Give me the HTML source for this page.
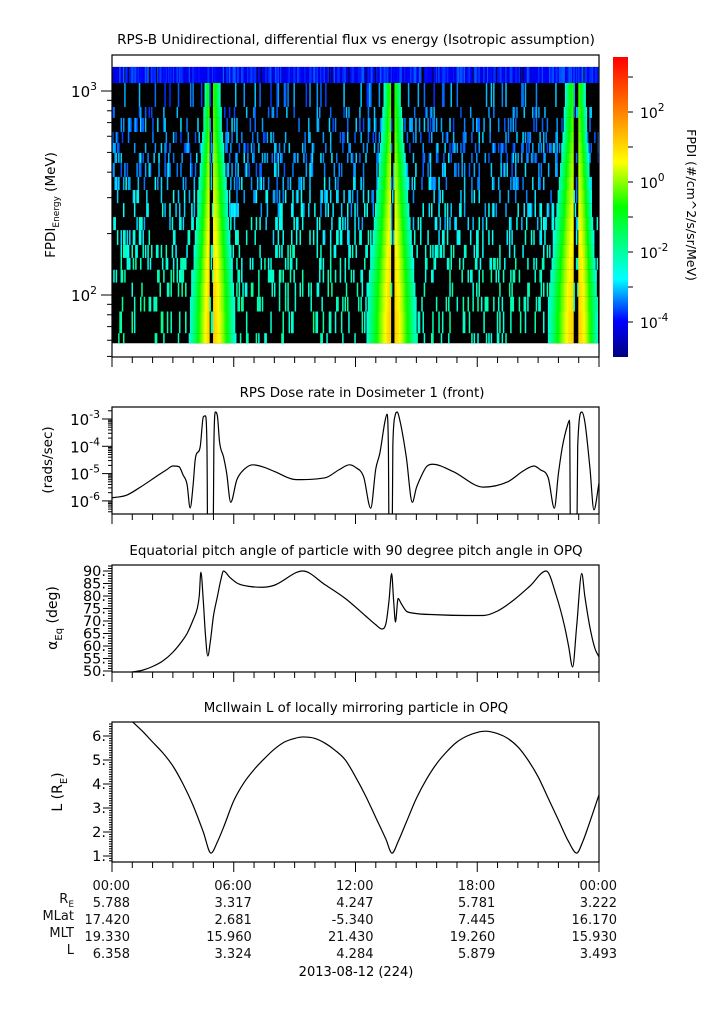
<!DOCTYPE html>
<html><head><meta charset="utf-8"><style>
html,body{margin:0;padding:0;background:#fff;}
svg{display:block;font-family:"DejaVu Sans","Liberation Sans",sans-serif;}
</style></head><body>
<svg id="fig" width="725" height="1019" viewBox="0 0 725 1019" xmlns="http://www.w3.org/2000/svg">
<defs>
<clipPath id="c1"><rect x="112" y="55" width="487" height="302"/></clipPath>
<clipPath id="c2"><rect x="112" y="407" width="487" height="107"/></clipPath>
<clipPath id="c3"><rect x="112" y="565" width="487" height="107"/></clipPath>
<clipPath id="c4"><rect x="112" y="722" width="487" height="140"/></clipPath>
<linearGradient id="jet" x1="0" y1="1" x2="0" y2="0">
<stop offset="0" stop-color="#000080"/><stop offset="0.12" stop-color="#0000ff"/>
<stop offset="0.26" stop-color="#00ffff"/><stop offset="0.5" stop-color="#00ff00"/>
<stop offset="0.65" stop-color="#ffff00"/><stop offset="0.82" stop-color="#ff8000"/><stop offset="1" stop-color="#ff0000"/>
</linearGradient>
</defs>
<g id="g-spec"></g>
<g id="g-lines"></g>
<g id="g-axes"></g>

<text x="356" y="44" font-size="13.6" text-anchor="middle">RPS-B  Unidirectional, differential flux vs energy (Isotropic assumption)</text>
<text transform="translate(55,205) rotate(-90)" font-size="13.5" text-anchor="middle">FPDI<tspan font-size="9" dy="4">Energy</tspan><tspan dy="-4"> (MeV)</tspan></text>
<text x="362" y="397" font-size="13.4" text-anchor="middle">RPS  Dose rate in Dosimeter 1 (front)</text>
<text transform="translate(52,460) rotate(-90)" font-size="13.5" text-anchor="middle">(rads/sec)</text>
<text x="356" y="555" font-size="13.4" text-anchor="middle">Equatorial pitch angle of particle with 90 degree pitch angle in OPQ</text>
<text transform="translate(57,618) rotate(-90)" font-size="14" text-anchor="middle">α<tspan font-size="10" dy="5">Eq</tspan><tspan dy="-5"> (deg)</tspan></text>
<text x="356" y="712" font-size="13.4" text-anchor="middle">McIlwain L of locally mirroring particle in OPQ</text>
<text transform="translate(62,792) rotate(-90)" font-size="14" text-anchor="middle">L (R<tspan font-size="10" dy="5">E</tspan><tspan dy="-5">)</tspan></text>

<rect x="613" y="57" width="15" height="300" fill="url(#jet)"/>
<text transform="translate(687,205) rotate(90)" font-size="12.5" text-anchor="middle">FPDI (#/cm^2/s/sr/MeV)</text>

<g font-size="13" fill="#111">
<text x="74" y="903" text-anchor="end">R<tspan font-size="9" dy="4">E</tspan></text>
<text x="74" y="920" text-anchor="end">MLat</text>
<text x="74" y="937" text-anchor="end">MLT</text>
<text x="74" y="954" text-anchor="end">L</text>
</g>
<text x="356" y="976" font-size="13" text-anchor="middle">2013-08-12 (224)</text>
</svg>
<script>
// ---------- data ----------
const energyBounds = [1312,1094,835,738,630,556,497,444,379,327,282,241,208,176,152,133,115,98,83,65,58];
const beltPeakLog = [-6,-0.4,-0.3,-0.2,-0.1,0.0,0.1,0.2,0.3,0.4,0.5,0.6,0.7,0.8,0.9,0.9,1.0,1.0,1.1,1.1];
const beltMaxL   = [1,1.9,2.0,2.05,2.1,2.2,2.3,2.4,2.5,2.6,2.7,2.8,2.9,3.0,3.1,3.2,3.3,3.35,3.4,3.45];
const bgLevelLog = [-3.9,-3.4,-3.4,-3.3,-3.3,-3.3,-3.2,-3.2,-3.1,-3.0,-2.9,-2.8,-2.6,-2.5,-2.4,-2.3,-2.3,-2.2,-2.2,-2.2];
const bgFraction = [0.95,0.15,0.18,0.22,0.22,0.25,0.25,0.25,0.28,0.25,0.25,0.25,0.22,0.22,0.22,0.22,0.2,0.2,0.17,0.15];

const lTimes = [1,1.5,2,2.5,3,3.5,4,4.5,4.88,5.2,5.5,6,6.5,7,7.5,8,8.5,9,9.4,10,10.5,11,11.5,12,12.5,13,13.5,13.8,14.1,14.5,15,15.5,16,16.5,17,17.5,18,18.4,19,19.5,20,20.5,21,21.5,22,22.5,22.9,23.2,23.5,24];
const lValues = [6.6,6.2,5.75,5.3,4.75,4.0,3.1,2.0,1.12,1.6,2.2,3.3,4.05,4.6,5.05,5.45,5.75,5.9,5.96,5.9,5.7,5.4,5.0,4.3,3.5,2.6,1.7,1.12,1.6,2.4,3.4,4.2,4.85,5.35,5.75,6.0,6.15,6.2,6.1,5.9,5.55,5.0,4.3,3.4,2.5,1.6,1.12,1.6,2.3,3.55];

const doseTimes = [0,0.7,1.4,2.2,2.7,3.0,3.3,3.5,3.7,3.85,4.0,4.1,4.35,4.5,4.6,4.68,4.72,4.98,5.02,5.1,5.2,5.3,5.5,5.65,5.85,6.15,6.5,6.95,7.5,8,9.1,10.5,11.2,11.7,12.0,12.4,12.75,13.0,13.2,13.45,13.55,13.62,13.66,13.8,13.84,13.95,14.05,14.2,14.5,14.8,15.0,15.2,15.5,15.8,16.8,18.3,19.5,20.3,20.8,21.1,21.5,21.8,22.0,22.2,22.45,22.55,22.6,22.9,22.95,23.15,23.3,23.55,23.75,24];
const doseValues = [1.3e-6,1.6e-6,3.2e-6,8e-6,1.4e-5,1.9e-5,1.8e-5,9e-6,4e-6,5.5e-7,4e-6,3.2e-5,1e-4,1.2e-3,1.3e-3,1e-4,1e-8,1e-8,1e-4,1.8e-3,1.2e-3,1.45e-4,4e-5,1.05e-5,8.9e-7,5.9e-6,1.4e-5,2.1e-5,1.7e-5,1.2e-5,6e-6,7e-6,1.4e-5,2.1e-5,1.7e-5,7.6e-6,5.4e-7,1.5e-5,5.6e-5,8e-4,1.5e-3,1e-4,1e-8,1e-8,1e-4,1.3e-3,1.8e-3,8e-4,4.2e-5,8.9e-7,3e-6,6.9e-6,1.8e-5,2.2e-5,1.2e-5,3.2e-6,5e-6,1.3e-5,1.9e-5,1.4e-5,6.9e-6,5.4e-7,1e-5,1e-4,6e-4,9e-4,1e-8,1e-8,1e-4,1.8e-3,8e-4,1.7e-5,4.7e-7,4.5e-6];

const pitchTimes = [1,1.5,2,2.5,3,3.5,3.7,4.0,4.2,4.3,4.38,4.5,4.6,4.72,4.85,5.0,5.2,5.35,5.5,5.8,6.2,6.8,7.4,8,9.4,10.5,11.5,12.5,13.0,13.3,13.5,13.65,13.78,13.88,13.97,14.1,14.25,14.5,14.8,16,17.5,18.3,19,19.8,20.6,21.4,21.9,22.3,22.5,22.7,22.9,23.15,23.3,23.55,23.8,24];
const pitchValues = [49.6,50.3,51.8,54,57.5,62.5,65,70.5,75,80,89.5,78,65,56,62,72,80,86,90,87.5,85,83.8,83.5,84.3,90,84.5,79,72,68.5,66.8,69,78,89,78,69.6,79,77,74,73.2,72.5,72.2,72.2,74,78.4,84,90,80,68,60,51.6,68,89,80,67.6,59,55.6];

const timeTickLabels = ["00:00","06:00","12:00","18:00","00:00"];
const reLabels = ["5.788","3.317","4.247","5.781","3.222"];
const mlatLabels = ["17.420","2.681","-5.340","7.445","16.170"];
const mltLabels = ["19.330","15.960","21.430","19.260","15.930"];
const lLabels = ["6.358","3.324","4.284","5.879","3.493"];

// ---------- scales ----------
const NS="http://www.w3.org/2000/svg";
const X0=112, X1=599;
const xs = t => X0 + (X1-X0)*t/24;
const yE = e => 91 + (3-Math.log10(e))*204;
const yDose = d => 419 + (-3-Math.log10(d))*27.3;
const yPitch = a => 571 + (90-a)*2.5;
const yL = l => 856 - (l-1)*24;
const cbY = lg => 112 + (2-lg)*35;
function mk(tag, attrs, parent){const e=document.createElementNS(NS,tag);for(const k in attrs)e.setAttribute(k,attrs[k]);parent.appendChild(e);return e;}
const cmapPos=[0,0.12,0.26,0.5,0.65,0.82,1];
const cmapCol=[[0,0,128],[0,0,255],[0,255,255],[0,255,0],[255,255,0],[255,128,0],[255,0,0]];
function jet(v){v=Math.max(0,Math.min(1,v));
 for(let i=1;i<cmapPos.length;i++){if(v<=cmapPos[i]){const f=(v-cmapPos[i-1])/(cmapPos[i]-cmapPos[i-1]);
  const a=cmapCol[i-1],b=cmapCol[i];return `rgb(${Math.round(a[0]+f*(b[0]-a[0]))},${Math.round(a[1]+f*(b[1]-a[1]))},${Math.round(a[2]+f*(b[2]-a[2]))})`;}}
 return 'rgb(255,0,0)';}
const LOGMIN=-5, LOGMAX=3.57;
const colorOf = lg => jet((lg-LOGMIN)/(LOGMAX-LOGMIN));
function interp(ts,vs,t){if(t<=ts[0])return vs[0];for(let i=1;i<ts.length;i++){if(t<=ts[i]){const f=(t-ts[i-1])/(ts[i]-ts[i-1]);return vs[i-1]+f*(vs[i]-vs[i-1]);}}return vs[vs.length-1];}
function hash(i,j){const x=Math.sin(i*12.9898+j*78.233)*43758.5453;return x-Math.floor(x);}

// ---------- spectrogram ----------
const gs=document.getElementById('g-spec');
const sg=mk('g',{'clip-path':'url(#c1)'},gs);
const bg=mk('rect',{x:112,y:yE(energyBounds[0]),width:487,height:yE(energyBounds[energyBounds.length-1])-yE(energyBounds[0]),fill:'#000'},sg);


const NC=400, dt=24/NC;
for(let r=0;r<energyBounds.length-1;r++){
  const y0=yE(energyBounds[r]), y1=yE(energyBounds[r+1]);
  for(let c=0;c<NC;c++){
    const t=(c+0.5)*dt;
    const Lv=interp(lTimes,lValues,Math.max(t,1)) + (t<1?(1-t)*0.5:0);
    let lg=-99;
    if(Lv>1.28 && Lv<beltMaxL[r]){const u=(Lv-1.28)/(beltMaxL[r]-1.28);lg=beltPeakLog[r]-(beltPeakLog[r]+2.6)*Math.pow(u,1.3);}
    const h=hash(c,r);
    if(h<bgFraction[r]){const bl=bgLevelLog[r]+(hash(r,c)-0.5)*0.8; if(bl>lg)lg=bl;}
    if(lg<-6)continue;
    const cell=mk('rect',{x:(xs(c*dt)).toFixed(2),y:y0.toFixed(2),width:(xs(dt)-X0+0.3).toFixed(2),height:(y1-y0).toFixed(2),fill:colorOf(lg)},sg);
    
    
  }
}

// ---------- line series (monotone cubic through data points) ----------
const gl=document.getElementById('g-lines');
function line(ts,vs,yf,clip,name){
  const P=ts.map((t,i)=>[xs(t),yf(vs[i])]);
  const n=P.length, m=new Array(n), dk=[];
  for(let i=0;i<n-1;i++)dk.push((P[i+1][1]-P[i][1])/(P[i+1][0]-P[i][0]));
  m[0]=dk[0]; m[n-1]=dk[n-2];
  for(let i=1;i<n-1;i++){m[i]=(dk[i-1]*dk[i]<=0)?0:(dk[i-1]+dk[i])/2;
    const a=m[i]/dk[i-1], b=m[i]/dk[i], s=a*a+b*b; if(s>9){const tt=3/Math.sqrt(s);m[i]=tt*(dk[i-1]+dk[i])/2;}}
  let d='M'+P[0][0].toFixed(2)+','+P[0][1].toFixed(2);
  for(let i=0;i<n-1;i++){const h=(P[i+1][0]-P[i][0])/3;
    d+='C'+(P[i][0]+h).toFixed(2)+','+(P[i][1]+m[i]*h).toFixed(2)+' '+(P[i+1][0]-h).toFixed(2)+','+(P[i+1][1]-m[i+1]*h).toFixed(2)+' '+P[i+1][0].toFixed(2)+','+P[i+1][1].toFixed(2);}
  const p=mk('path',{d:d,fill:'none',stroke:'#000','stroke-width':1.2,'clip-path':`url(#${clip})`,'stroke-linejoin':'round'},gl);
  
  
}
line(doseTimes,doseValues,yDose,'c2','dose-rate-line');
line(pitchTimes,pitchValues,yPitch,'c3','pitch-angle-line');
line(lTimes,lValues,yL,'c4','mcilwain-l-line');

// ---------- axes ----------
const ga=document.getElementById('g-axes');
const panels=[[55,357],[407,514],[565,672],[722,862]];
panels.forEach((p,k)=>{
  const f=mk('rect',{x:X0,y:p[0],width:X1-X0,height:p[1]-p[0],fill:'none',stroke:'#000','stroke-width':1.2},ga);
  
  
  for(let h=0;h<=24;h++){
    const len=h%6===0?10:6;
    const tk=mk('line',{x1:xs(h),x2:xs(h),y1:p[1],y2:p[1]+len,stroke:'#000','stroke-width':1},ga);
    
    
  }
});
function ytick(y,len,name){const t=mk('line',{x1:X0-len,x2:X0,y1:y,y2:y,stroke:'#000','stroke-width':1},ga);}
function powLabel(x,y,exp,size,name){
  const t=mk('text',{x:x,y:y,'font-size':size,'text-anchor':'end'},ga);
  
  
  t.appendChild(document.createTextNode('10'));
  const s=mk('tspan',{'font-size':size*0.72,dy:-7},t);
  s.textContent=exp;
}
for(let k=1;k<=3;k++)for(let m=1;m<10;m++){const e=m*Math.pow(10,k);const y=yE(e);if(y<55||y>357)continue;ytick(y,m===1?11:5,'energy-tick');}
powLabel(97,97,"3",15,'energy-tick-label');
powLabel(97,301,"2",15,'energy-tick-label');
for(let k=-7;k<=-2;k++)for(let m=1;m<10;m++){const d=m*Math.pow(10,k);const y=yDose(d);if(y<407||y>514)continue;ytick(y,m===1?10:4,'dose-tick');}
[-3,-4,-5,-6].forEach(e=>powLabel(100,yDose(Math.pow(10,e))+6,String(e),15,'dose-tick-label'));
for(let a=49;a<=92;a++){const y=yPitch(a);if(y<565||y>672)continue;ytick(y,a%5===0?9:4,'pitch-tick');}
for(let a=50;a<=90;a+=5){const t=mk('text',{x:106,y:yPitch(a)+5,'font-size':14.5,'text-anchor':'end'},ga);t.textContent=a+'.';
 
 }
for(let i=4;i<=65;i++){const l=i/10;const y=yL(l);if(y<722||y>862)continue;ytick(y,i%10===0?9:3,'l-tick');}
for(let l=1;l<=6;l++){const t=mk('text',{x:106,y:yL(l)+5,'font-size':14.5,'text-anchor':'end'},ga);t.textContent=l+'.';
 
 }
for(let lg=-4;lg<=3;lg++){const y=cbY(lg);const t=mk('line',{x1:628,x2:633,y1:y,y2:y,stroke:'#000','stroke-width':1},ga);
 
 }
[2,0,-2,-4].forEach(e=>{const t=mk('text',{x:640,y:cbY(e)+6,'font-size':14},ga);
 
 
 t.appendChild(document.createTextNode('10'));
 const s=mk('tspan',{'font-size':10.5,dy:-7},t); s.textContent=String(e);});
const rows=[[timeTickLabels,890],[reLabels,907],[mlatLabels,924],[mltLabels,941],[lLabels,958]];
rows.forEach(([arr,y],ri)=>arr.forEach((s,i)=>{
  const t=mk('text',{x:xs(i*6)+18,y:y,'font-size':13,'text-anchor':'end',fill:'#111'},ga);
  t.textContent=s;
  
  
}));
</script>
</body></html>
